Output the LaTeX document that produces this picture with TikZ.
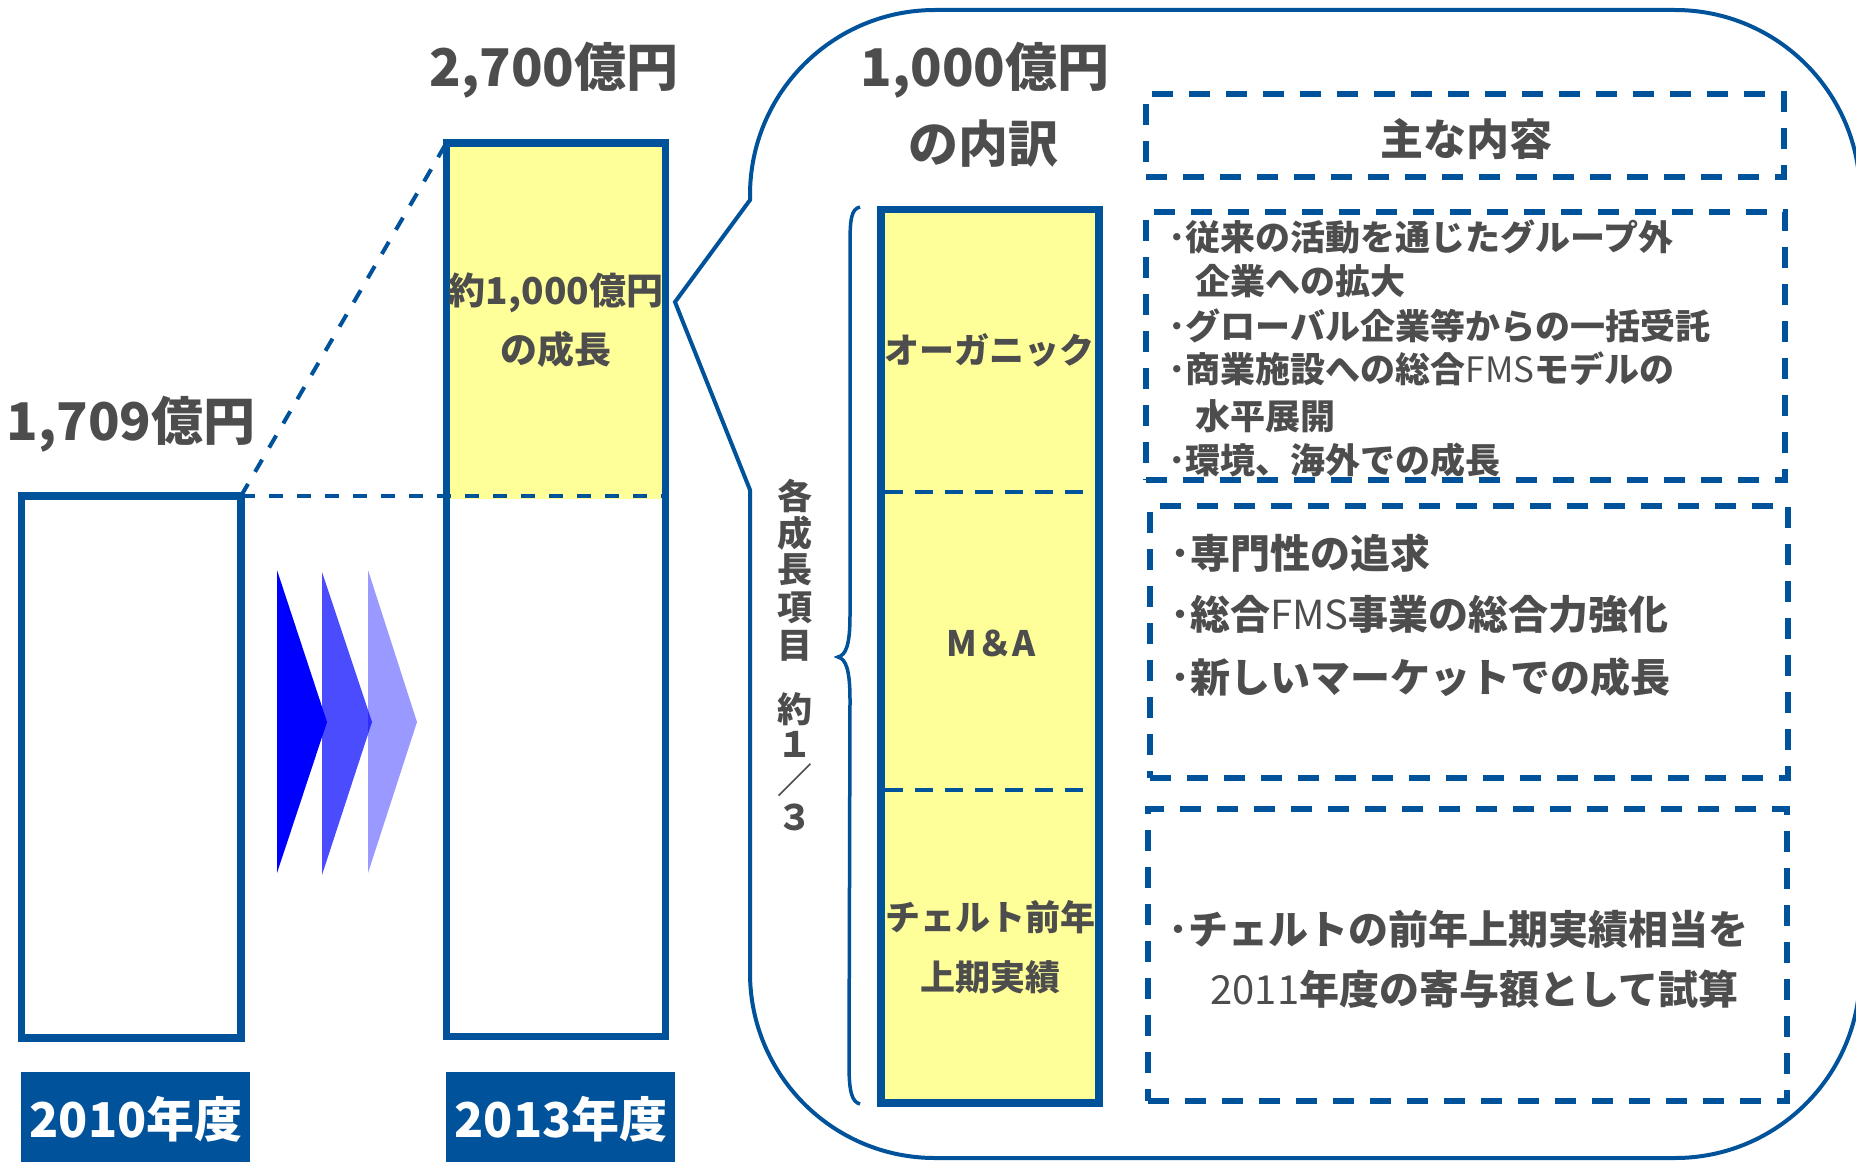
\documentclass[tikz,border=0pt]{standalone}
\usepackage{fontspec}
\setmainfont{Noto Sans CJK JP}
\usetikzlibrary{fit}
\definecolor{dblue}{HTML}{00529B}
\definecolor{yel}{HTML}{FFFF99}
\definecolor{txtgray}{HTML}{4D4D4D}
\newcommand{\fsz}[2]{\fontsize{#1pt}{#2pt}\selectfont}
\begin{document}
\begin{tikzpicture}[x=0.5pt,y=-0.5pt,
  box/.style={draw=dblue, line width=3.75pt, inner sep=0pt, outer sep=0pt},
  dashbox/.style={draw=dblue, line width=2.6pt, dash pattern=on 10.5pt off 8pt, inner sep=0pt, outer sep=0pt},
  guideline/.style={draw=dblue, line width=2pt, dash pattern=on 7pt off 7pt},
  divline/.style={draw=dblue, line width=1.75pt, dash pattern=on 9pt off 6pt},
  lblbox/.style={fill=dblue, inner sep=0pt, outer sep=0pt},
  lbltxt/.style={text=white, inner sep=0pt, font=\fsz{24}{24}\bfseries},
  bigtxt/.style={text=txtgray, inner sep=0pt, font=\fsz{26}{26}\bfseries},
  bartxt/.style={text=txtgray, inner sep=0pt, font=\fsz{17.5}{30}\bfseries, align=center},
  vtxt/.style={text=txtgray, inner sep=0pt, font=\fsz{17.5}{17.5}\bfseries},
  listA/.style={text=txtgray, inner sep=0pt, anchor=west, font=\fsz{17.5}{17.5}\bfseries},
  listB/.style={text=txtgray, inner sep=0pt, anchor=west, font=\fsz{20}{20}\bfseries},
  listC/.style={text=txtgray, inner sep=0pt, anchor=west, font=\fsz{20}{20}\bfseries}
]
\useasboundingbox (0,0) rectangle (1856,1161);
\clip (0,0) rectangle (1856,1161);

% yellow growth part of the 2013 bar
\fill[yel] (449.75,147) rectangle (662.25,499);

% boxes (outlines drawn later on top)
\node[fit={(21.3,496) (241,1038)}, inner sep=0pt, outer sep=0pt] (b2010) {};
\node[fit={(446.4,143) (665.6,1036.6)}, inner sep=0pt, outer sep=0pt] (b2013) {};

% guide lines
\draw[guideline] (b2010.north east) -- (b2013.north west);
\draw[guideline] (b2010.north east) -- (b2013.east |- b2010.north east);

\node[box, fit={(21.3,496) (241,1038)}] (b2010o) {};
\node[box, fit={(446.4,143) (665.6,1036.6)}] (b2013o) {};

% chevrons
\fill[blue] (277,570) -- (327,722) -- (277,873) -- cycle;
\fill[blue, opacity=0.7] (322,572) -- (372,722) -- (322,875) -- cycle;
\fill[blue, opacity=0.4] (368,570) -- (417,722) -- (368,873) -- cycle;

% year labels
\node[lblbox, fit={(21,1072) (250,1165)}] (l2010) {};
\node[lbltxt] (y2010) at (136,1119) {2010年度};
\node[lblbox, fit={(446,1072) (675,1165)}] (l2013) {};
\node[lbltxt] (y2013) at (561,1119) {2013年度};

% amounts
\node[bigtxt] (t2700) at (554,70) {2,700億円};
\node[bigtxt] (t1709) at (131,424) {1,709億円};
\node[text=txtgray, inner sep=0pt, font=\fsz{18.5}{29.5}\bfseries, align=center] (tgrow) at (556,320) {約1,000億円\\の成長};

% callout bubble
\draw[dblue, line width=2pt] (675,302) -- (750,200) -- (750,195)
  arc[start angle=180, end angle=90, radius=92.5pt] -- (1675,10)
  arc[start angle=90, end angle=0, radius=92.5pt] -- (1860,973)
  arc[start angle=0, end angle=-90, radius=92.5pt] -- (935,1158)
  arc[start angle=-90, end angle=-180, radius=92.5pt] -- (750,490) -- cycle;

\node[bigtxt] (t1000) at (985,70) {1,000億円};
\node[bigtxt, font=\fsz{25}{25}\bfseries] (tuchi) at (983,144) {の内訳};

% brace
\draw[dblue, line width=1.75pt] (860,207) .. controls (851,209) and (850,220) .. (850,245)
  -- (850,615) .. controls (850,645) and (846,655) .. (838,657)
  .. controls (846,659) and (850,670) .. (850,700)
  -- (849,1065) .. controls (849,1092) and (852,1102) .. (860,1104);

% vertical text
\foreach \c/\yy [count=\i] in {各/496, 成/533, 長/570, 項/608, 目/646, 約/709, １/744, ／/780, ３/817}
  \node[vtxt] (v\i) at (795,\yy) {\c};

% breakdown bar
\fill[yel] (881,209.5) rectangle (1099,1103);
\draw[divline] (885,492) -- (1095,492);
\draw[divline] (885,790) -- (1095,790);
\node[box, fit={(881,209.5) (1099,1103)}] (bar) {};
\node[bartxt] (lorg) at (989,350) {オーガニック};
\node[bartxt] (lma) at (991,643) {M＆A};
\node[bartxt] (lchel) at (990,947) {チェルト前年\\上期実績};

% dashed content boxes
\node[dashbox, fit={(1146,94) (1784,177)}] (hdr) {};
\node[text=txtgray, inner sep=0pt, font=\fsz{21.5}{21.5}\bfseries] (hdrt) at (1466,139) {主な内容};
\node[dashbox, fit={(1146,212) (1785,480)}] (c1) {};
\node[dashbox, fit={(1150,506) (1788,778)}] (c2) {};
\node[dashbox, fit={(1148,809) (1787,1101)}] (c3) {};

\node[listA] (a1) at (1168,237) {･従来の活動を通じたグループ外};
\node[listA] (a2) at (1195,281) {企業への拡大};
\node[listA] (a3) at (1168,326) {･グローバル企業等からの一括受託};
\node[listA] (a4) at (1168,369) {･商業施設への総合{\mdseries FMS}モデルの};
\node[listA] (a5) at (1195,416) {水平展開};
\node[listA] (a6) at (1168,460) {･環境、海外での成長};

\node[listB] (m1) at (1170,553) {･専門性の追求};
\node[listB] (m2) at (1170,614) {･総合{\mdseries FMS}事業の総合力強化};
\node[listB] (m3) at (1170,677) {･新しいマーケットでの成長};

\node[listC] (k1) at (1168,929) {･チェルトの前年上期実績相当を};
\node[listC] (k2) at (1210,989) {{\mdseries 2011}年度の寄与額として試算};
\end{tikzpicture}
\end{document}
